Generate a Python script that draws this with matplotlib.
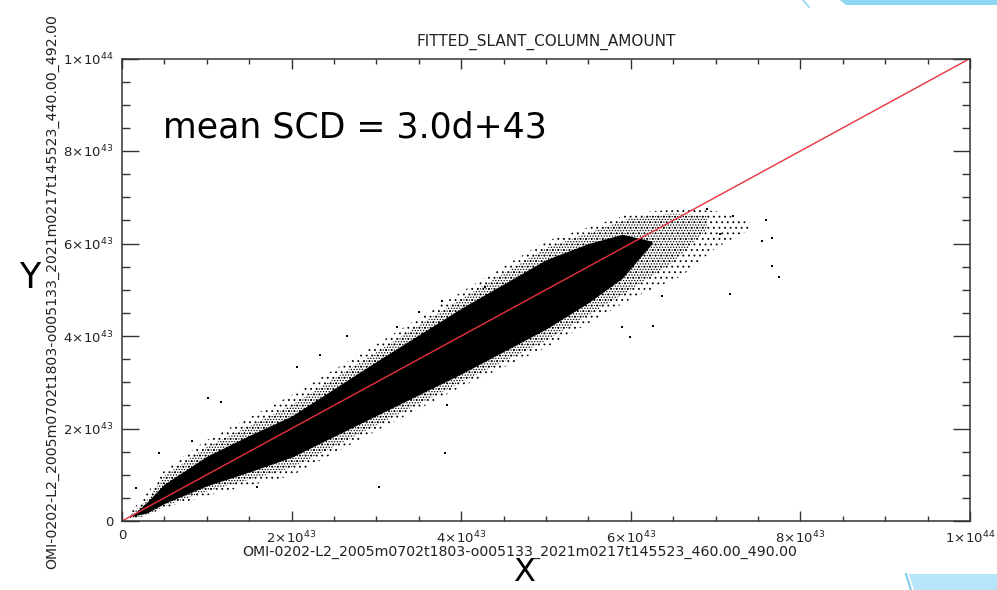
import numpy as np
import matplotlib
matplotlib.use('Agg')
import matplotlib.pyplot as plt
from matplotlib.patches import Polygon
from matplotlib.lines import Line2D
from matplotlib.ticker import MultipleLocator, FuncFormatter

# all values in units of 1e43 molec/cm2
title = 'FITTED_SLANT_COLUMN_AMOUNT'
xlabel = 'OMI-0202-L2_2005m0702t1803-o005133_2021m0217t145523_460.00_490.00'
ylabel = 'OMI-0202-L2_2005m0702t1803-o005133_2021m0217t145523_440.00_492.00'
note = 'mean SCD = 3.0d+43'

# solid core of the point cloud
core_x = [0.12, 0.30, 0.50, 1.00, 1.50, 2.00, 3.00, 4.00, 5.00, 5.50, 5.90, 6.25]
core_lo = [0.10, 0.18, 0.38, 0.76, 1.06, 1.38, 2.28, 3.18, 4.15, 4.72, 5.25, 6.00]
core_hi = [0.12, 0.42, 0.80, 1.40, 1.85, 2.27, 3.45, 4.60, 5.65, 6.00, 6.20, 6.05]

# dense but dotted band around the core
mid_x = [0.10, 0.30, 0.50, 1.00, 2.00, 3.00, 4.00, 5.00, 6.00, 6.50, 6.90]
mid_lo = [0.05, 0.14, 0.32, 0.64, 1.15, 2.07, 3.00, 3.90, 5.00, 5.60, 6.30]
mid_hi = [0.13, 0.46, 0.98, 1.60, 2.50, 3.65, 4.80, 5.90, 6.55, 6.65, 6.60]

# sparse outer halo of scattered points
halo_x = [0.05, 0.25, 0.50, 1.00, 2.00, 3.00, 4.00, 5.00, 6.00, 6.60, 7.00, 7.40]
halo_lo = [0.03, 0.10, 0.28, 0.55, 0.98, 1.95, 2.90, 3.75, 4.80, 5.30, 5.90, 6.30]
halo_hi = [0.10, 0.50, 1.10, 1.75, 2.72, 3.82, 4.95, 6.05, 6.65, 6.75, 6.70, 6.45]

# isolated outliers
out_x = [0.16, 0.44, 0.83, 1.01, 1.17, 1.59, 2.06, 2.26, 2.34, 2.43, 2.59, 2.65,
         3.03, 3.24, 3.50, 3.77, 3.81, 3.83, 4.28, 5.90, 5.99, 6.26, 6.37, 7.17,
         7.55, 7.60, 7.66, 7.67, 7.75, 7.20, 7.05, 6.90]
out_y = [0.71, 1.47, 1.73, 2.66, 2.58, 0.74, 3.34, 1.71, 3.59, 2.66, 2.56, 4.00,
         0.74, 4.19, 4.52, 4.76, 1.48, 2.51, 5.07, 4.20, 3.98, 4.22, 4.86, 4.90,
         6.05, 6.50, 6.12, 5.51, 5.28, 6.60, 6.20, 6.75]

# 1:1 reference line
line_x = [0, 10]
line_y = [0, 10]

W, H = 997, 590
plt.rcParams['hatch.linewidth'] = 0.6
fig = plt.figure(figsize=(W / 100, H / 100), dpi=100)
ax = fig.add_axes([122 / W, (H - 521) / H, (970 - 122) / W, (521 - 58.5) / H])

ax.fill_between(halo_x, halo_lo, halo_hi, facecolor='none', edgecolor='black',
                hatch='...', linewidth=0)
ax.fill_between(mid_x, mid_lo, mid_hi, facecolor='none', edgecolor='black',
                hatch='......', linewidth=0)
ax.fill_between(core_x, core_lo, core_hi, color='black', linewidth=0)
ax.plot(out_x, out_y, 's', color='black', markersize=1.5, markeredgewidth=0)
ax.plot(line_x, line_y, color='#e8323c', linewidth=1.0)

ax.set_xlim(0, 10)
ax.set_ylim(0, 10)

def sci(v, pos):
    if abs(v) < 1e-9:
        return '0'
    if abs(v - 10) < 1e-9:
        return r'$1\!\times\!10^{44}$'
    return r'$%d\!\times\!10^{43}$' % round(v)

for axis in (ax.xaxis, ax.yaxis):
    axis.set_major_locator(MultipleLocator(2))
    axis.set_minor_locator(MultipleLocator(0.5))
    axis.set_major_formatter(FuncFormatter(sci))

ax.tick_params(axis='both', which='both', direction='in', top=True, right=True,
               colors='#333333', width=1.0, labelsize=9.5, labelcolor='#222222')
ax.tick_params(axis='x', which='major', length=7, pad=6)
ax.tick_params(axis='x', which='minor', length=3.6)
ax.tick_params(axis='y', which='major', length=12, pad=6)
ax.tick_params(axis='y', which='minor', length=6)
for s in ax.spines.values():
    s.set_color('#333333')
    s.set_linewidth(1.1)

fig.text(546 / W, 1 - 42 / H, title, ha='center', va='center', fontsize=11, color='#222222')
fig.text(520 / W, 1 - 552 / H, xlabel, ha='center', va='center', fontsize=10.2, color='#222222')
fig.text(52 / W, 1 - 292 / H, ylabel, ha='center', va='center', rotation=90,
         fontsize=10.2, color='#222222')
fig.text(163 / W, 1 - 127 / H, note, ha='left', va='center', fontsize=25, color='black')
fig.text(30 / W, 1 - 278 / H, 'Y', ha='center', va='center', fontsize=25, color='black')
fig.text(524 / W, 2 / H, 'X', ha='center', va='bottom', fontsize=23, color='black')

# slide decorations in the corners
def px(pts):
    return [(x / W, 1 - y / H) for x, y in pts]

fig.patches.append(Polygon(px([(840, 0), (997, 0), (997, 5), (846, 5)]), closed=True,
                           facecolor='#8fd6f2', edgecolor='none', transform=fig.transFigure))
fig.lines.append(Line2D([803 / W, 809 / W], [1, 1 - 7 / H], color='#8fd6f2', linewidth=1.2,
                        transform=fig.transFigure))
fig.patches.append(Polygon(px([(909, 574), (997, 574), (997, 590), (914, 590)]), closed=True,
                           facecolor='#b6e5f7', edgecolor='none', transform=fig.transFigure))
fig.lines.append(Line2D([906 / W, 911 / W], [1 - 574 / H, 0], color='#7fcdee', linewidth=1.5,
                        transform=fig.transFigure))

fig.savefig('out.png', dpi=100)
